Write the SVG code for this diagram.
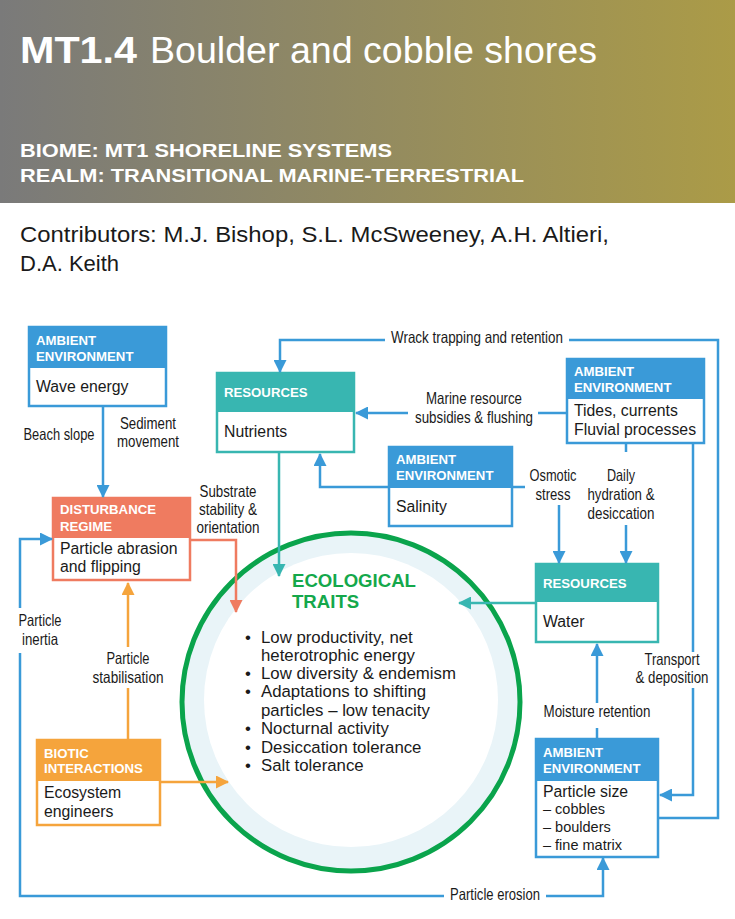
<svg xmlns="http://www.w3.org/2000/svg" width="735" height="919" viewBox="0 0 735 919">
<defs>
<linearGradient id="hdr" x1="0" y1="0" x2="1" y2="0">
<stop offset="0" stop-color="#7a7a7a"/>
<stop offset="1" stop-color="#ab9b47"/>
</linearGradient>
<marker id="aB" markerUnits="userSpaceOnUse" markerWidth="13" markerHeight="13" refX="12" refY="6.5" orient="auto"><path d="M0,0 L13,6.5 L0,13 z" fill="#3a9ad8"/></marker>
<marker id="aT" markerUnits="userSpaceOnUse" markerWidth="13" markerHeight="13" refX="12" refY="6.5" orient="auto"><path d="M0,0 L13,6.5 L0,13 z" fill="#38b6b1"/></marker>
<marker id="aS" markerUnits="userSpaceOnUse" markerWidth="13" markerHeight="13" refX="12" refY="6.5" orient="auto"><path d="M0,0 L13,6.5 L0,13 z" fill="#ef7b60"/></marker>
<marker id="aO" markerUnits="userSpaceOnUse" markerWidth="13" markerHeight="13" refX="12" refY="6.5" orient="auto"><path d="M0,0 L13,6.5 L0,13 z" fill="#f5a43c"/></marker>
<style>
.hd{font-family:"Liberation Sans",Arial,sans-serif;font-weight:bold;font-size:13.2px;fill:#fff}
.bd{font-family:"Liberation Sans",Arial,sans-serif;font-size:15.8px;fill:#1a1a1a}
.bu{font-family:"Liberation Sans",Arial,sans-serif;font-size:16.8px;fill:#1a1a1a}
.sm{font-family:"Liberation Sans",Arial,sans-serif;font-size:14.5px;fill:#1a1a1a}
.lb{font-family:"Liberation Sans",Arial,sans-serif;font-size:16.5px;fill:#1a1a1a;text-anchor:middle}
.cb{fill:none;stroke:#3a9ad8;stroke-width:2.5}
.ct{fill:none;stroke:#38b6b1;stroke-width:2.5}
.cs{fill:none;stroke:#ef7b60;stroke-width:2.5}
.co{fill:none;stroke:#f5a43c;stroke-width:2.5}
.bl{fill:#3a9ad8}.te{fill:#38b6b1}.sa{fill:#ef7b60}.or{fill:#f5a43c}
</style>
</defs>
<rect width="735" height="919" fill="#fff"/>
<g id="header">
<rect x="0" y="0" width="735" height="203" fill="url(#hdr)"/>
<text x="20" y="63" font-family="Liberation Sans,Arial,sans-serif" font-size="36" font-weight="bold" fill="#fff" textLength="117" lengthAdjust="spacingAndGlyphs">MT1.4</text>
<text x="150" y="63" font-family="Liberation Sans,Arial,sans-serif" font-size="36" fill="#fff" textLength="447" lengthAdjust="spacingAndGlyphs">Boulder and cobble shores</text>
<text x="20" y="157" font-family="Liberation Sans,Arial,sans-serif" font-size="19" font-weight="bold" fill="#fff" textLength="372" lengthAdjust="spacingAndGlyphs">BIOME: MT1 SHORELINE SYSTEMS</text>
<text x="20" y="182" font-family="Liberation Sans,Arial,sans-serif" font-size="19" font-weight="bold" fill="#fff" textLength="504" lengthAdjust="spacingAndGlyphs">REALM: TRANSITIONAL MARINE-TERRESTRIAL</text>
<text x="20" y="242" font-family="Liberation Sans,Arial,sans-serif" font-size="22" fill="#1a1a1a" textLength="589" lengthAdjust="spacingAndGlyphs">Contributors: M.J. Bishop, S.L. McSweeney, A.H. Altieri,</text>
<text x="20" y="271" font-family="Liberation Sans,Arial,sans-serif" font-size="22" fill="#1a1a1a">D.A. Keith</text>
</g>
<g id="traits">
<circle cx="351" cy="702" r="169" fill="#e9f4f8" stroke="#0aa44c" stroke-width="5"/>
<circle cx="351" cy="700" r="147" fill="#fff"/>
<text x="292" y="587" font-family="Liberation Sans,Arial,sans-serif" font-size="18.6" font-weight="bold" fill="#14a84b">ECOLOGICAL</text>
<text x="292" y="608" font-family="Liberation Sans,Arial,sans-serif" font-size="18.6" font-weight="bold" fill="#14a84b">TRAITS</text>
<g class="bu">
<text x="245" y="643">•</text><text x="261" y="643">Low productivity, net</text>
<text x="261" y="661">heterotrophic energy</text>
<text x="245" y="679">•</text><text x="261" y="679">Low diversity &amp; endemism</text>
<text x="245" y="697">•</text><text x="261" y="697">Adaptations to shifting</text>
<text x="261" y="716">particles – low tenacity</text>
<text x="245" y="734">•</text><text x="261" y="734">Nocturnal activity</text>
<text x="245" y="753">•</text><text x="261" y="753">Desiccation tolerance</text>
<text x="245" y="771">•</text><text x="261" y="771">Salt tolerance</text>
</g>
</g>
<g id="wave">
<rect x="29" y="327" width="137" height="79" fill="#fff" stroke="#3a9ad8" stroke-width="2.5"/>
<rect x="29" y="327" width="137" height="41" class="bl"/>
<text x="36" y="345" class="hd">AMBIENT</text><text x="36" y="361" class="hd">ENVIRONMENT</text>
<text x="36" y="392" class="bd">Wave energy</text>
</g>
<g id="nutrients">
<rect x="217" y="373" width="137" height="79" fill="#fff" stroke="#38b6b1" stroke-width="2.5"/>
<rect x="217" y="373" width="137" height="39" class="te"/>
<text x="224" y="397" class="hd">RESOURCES</text>
<text x="224" y="437" class="bd">Nutrients</text>
</g>
<g id="disturbance">
<rect x="53" y="498" width="137" height="82" fill="#fff" stroke="#ef7b60" stroke-width="2.5"/>
<rect x="53" y="498" width="137" height="40" class="sa"/>
<text x="60" y="514" class="hd">DISTURBANCE</text><text x="60" y="531" class="hd">REGIME</text>
<text x="60" y="554" class="bd">Particle abrasion</text><text x="60" y="572" class="bd">and flipping</text>
</g>
<g id="tides">
<rect x="567" y="359" width="137" height="84" fill="#fff" stroke="#3a9ad8" stroke-width="2.5"/>
<rect x="567" y="359" width="137" height="40" class="bl"/>
<text x="574" y="376" class="hd">AMBIENT</text><text x="574" y="392" class="hd">ENVIRONMENT</text>
<text x="574" y="416" class="bd">Tides, currents</text><text x="574" y="435" class="bd">Fluvial processes</text>
</g>
<g id="salinity">
<rect x="389" y="447" width="123" height="79" fill="#fff" stroke="#3a9ad8" stroke-width="2.5"/>
<rect x="389" y="447" width="123" height="41" class="bl"/>
<text x="396" y="464" class="hd">AMBIENT</text><text x="396" y="480" class="hd">ENVIRONMENT</text>
<text x="396" y="512" class="bd">Salinity</text>
</g>
<g id="water">
<rect x="536" y="564" width="122" height="78" fill="#fff" stroke="#38b6b1" stroke-width="2.5"/>
<rect x="536" y="564" width="122" height="38" class="te"/>
<text x="543" y="588" class="hd">RESOURCES</text>
<text x="543" y="627" class="bd">Water</text>
</g>
<g id="particlesize">
<rect x="536" y="739" width="122" height="118" fill="#fff" stroke="#3a9ad8" stroke-width="2.5"/>
<rect x="536" y="739" width="122" height="42" class="bl"/>
<text x="543" y="757" class="hd">AMBIENT</text><text x="543" y="773" class="hd">ENVIRONMENT</text>
<text x="543" y="797" class="bd">Particle size</text>
<text x="543" y="814" class="sm">– cobbles</text>
<text x="543" y="832" class="sm">– boulders</text>
<text x="543" y="850" class="sm">– fine matrix</text>
</g>
<g id="biotic">
<rect x="37" y="740" width="123" height="85" fill="#fff" stroke="#f5a43c" stroke-width="2.5"/>
<rect x="37" y="740" width="123" height="41" class="or"/>
<text x="44" y="758" class="hd">BIOTIC</text><text x="44" y="773" class="hd">INTERACTIONS</text>
<text x="44" y="798" class="bd">Ecosystem</text><text x="44" y="817" class="bd">engineers</text>
</g>
<g id="connectors">
<path class="cb" d="M103,406 V497" marker-end="url(#aB)"/>
<path class="cb" d="M658,818 H718 V340 H569"/>
<path class="cb" d="M385,340 H280 V372" marker-end="url(#aB)"/>
<path class="cb" d="M567,413 H538"/>
<path class="cb" d="M408,413 H356" marker-end="url(#aB)"/>
<path class="cb" d="M389,487 H320 V454" marker-end="url(#aB)"/>
<path class="cb" d="M512,487 H525"/>
<path class="cb" d="M559,505 V563" marker-end="url(#aB)"/>
<path class="cb" d="M626,443 V452"/>
<path class="cb" d="M626,525 V563" marker-end="url(#aB)"/>
<path class="cb" d="M693,443 V652"/>
<path class="cb" d="M693,688 V795 H660" marker-end="url(#aB)"/>
<path class="cb" d="M597,739 V728"/>
<path class="cb" d="M597,703 V644" marker-end="url(#aB)"/>
<path class="cb" d="M444,896 H20 V653"/>
<path class="cb" d="M20,608 V539 H52" marker-end="url(#aB)"/>
<path class="cb" d="M546,896 H603 V858" marker-end="url(#aB)"/>
<path class="ct" d="M279,452 V576" marker-end="url(#aT)"/>
<path class="ct" d="M536,603 H459" marker-end="url(#aT)"/>
<path class="cs" d="M190,540 H236 V612" marker-end="url(#aS)"/>
<path class="co" d="M128,740 V688"/>
<path class="co" d="M128,647 V583" marker-end="url(#aO)"/>
<path class="co" d="M160,782 H228" marker-end="url(#aO)"/>
<text class="lb" x="59" y="440" textLength="71" lengthAdjust="spacingAndGlyphs">Beach slope</text>
<text class="lb" x="148" y="429" textLength="56" lengthAdjust="spacingAndGlyphs">Sediment</text><text class="lb" x="148" y="447" textLength="62" lengthAdjust="spacingAndGlyphs">movement</text>
<text class="lb" x="477" y="343" textLength="172" lengthAdjust="spacingAndGlyphs">Wrack trapping and retention</text>
<text class="lb" x="474" y="404" textLength="96" lengthAdjust="spacingAndGlyphs">Marine resource</text><text class="lb" x="474" y="423" textLength="118" lengthAdjust="spacingAndGlyphs">subsidies &amp; flushing</text>
<text class="lb" x="553" y="481" textLength="47" lengthAdjust="spacingAndGlyphs">Osmotic</text><text class="lb" x="553" y="500" textLength="35" lengthAdjust="spacingAndGlyphs">stress</text>
<text class="lb" x="621" y="481" textLength="28" lengthAdjust="spacingAndGlyphs">Daily</text><text class="lb" x="621" y="500" textLength="67" lengthAdjust="spacingAndGlyphs">hydration &amp;</text><text class="lb" x="621" y="519" textLength="67" lengthAdjust="spacingAndGlyphs">desiccation</text>
<text class="lb" x="228" y="497" textLength="57" lengthAdjust="spacingAndGlyphs">Substrate</text><text class="lb" x="228" y="515" textLength="58" lengthAdjust="spacingAndGlyphs">stability &amp;</text><text class="lb" x="228" y="533" textLength="63" lengthAdjust="spacingAndGlyphs">orientation</text>
<text class="lb" x="672" y="665" textLength="55" lengthAdjust="spacingAndGlyphs">Transport</text><text class="lb" x="672" y="683" textLength="73" lengthAdjust="spacingAndGlyphs">&amp; deposition</text>
<text class="lb" x="597" y="717" textLength="107" lengthAdjust="spacingAndGlyphs">Moisture retention</text>
<text class="lb" x="40" y="626" textLength="43" lengthAdjust="spacingAndGlyphs">Particle</text><text class="lb" x="40" y="645" textLength="36" lengthAdjust="spacingAndGlyphs">inertia</text>
<text class="lb" x="128" y="664" textLength="43" lengthAdjust="spacingAndGlyphs">Particle</text><text class="lb" x="128" y="683" textLength="71" lengthAdjust="spacingAndGlyphs">stabilisation</text>
<text class="lb" x="495" y="900" textLength="90" lengthAdjust="spacingAndGlyphs">Particle erosion</text>
</g>
</svg>
